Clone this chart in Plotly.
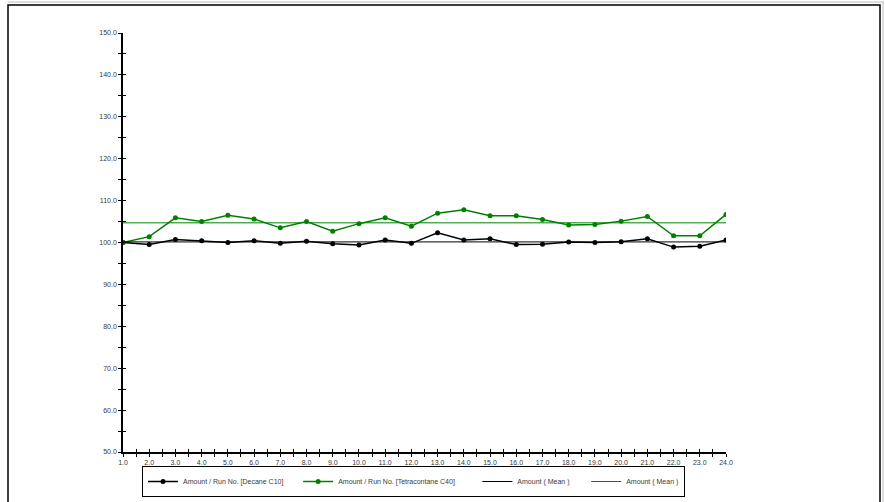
import plotly.graph_objects as go

# Run numbers and measured amounts
run_no = [1.0, 2.0, 3.0, 4.0, 5.0, 6.0, 7.0, 8.0, 9.0, 10.0, 11.0, 12.0,
          13.0, 14.0, 15.0, 16.0, 17.0, 18.0, 19.0, 20.0, 21.0, 22.0, 23.0, 24.0]

decane_c10 = [100.0, 99.5, 100.7, 100.4, 100.0, 100.4, 99.8, 100.3, 99.7, 99.4, 100.6, 99.8,
              102.3, 100.6, 100.9, 99.5, 99.6, 100.1, 100.0, 100.2, 100.9, 98.9, 99.1, 100.6]

tetracontane_c40 = [100.0, 101.4, 105.9, 105.0, 106.5, 105.6, 103.5, 105.0, 102.7, 104.5, 105.9, 103.9,
                    107.0, 107.8, 106.4, 106.4, 105.5, 104.2, 104.3, 105.1, 106.2, 101.6, 101.6, 106.7]

series_names = ["Amount / Run No. [Decane C10]",
                "Amount / Run No. [Tetracontane C40]",
                "Amount ( Mean )",
                "Amount ( Mean )"]

mean_c10 = sum(decane_c10) / len(decane_c10)
mean_c40 = sum(tetracontane_c40) / len(tetracontane_c40)

BLACK = "#000000"
GREEN = "#008000"
TEXT = "#3a3a3a"
FONT = "Liberation Sans, Arial, sans-serif"


def pad(n):
    # non-breaking spaces widen the gap between legend entries
    return "\u00a0" * n


fig = go.Figure()

fig.add_trace(go.Scatter(
    x=run_no, y=decane_c10, mode="lines+markers", name=series_names[0] + pad(5),
    line=dict(color=BLACK, width=1.5), marker=dict(color=BLACK, size=5),
))
fig.add_trace(go.Scatter(
    x=run_no, y=tetracontane_c40, mode="lines+markers", name=series_names[1] + pad(9),
    line=dict(color=GREEN, width=1.5), marker=dict(color=GREEN, size=5),
))
# Mean lines live on the overlay axes that carry the inward tick marks
fig.add_trace(go.Scatter(
    x=[run_no[0], run_no[-1]], y=[mean_c10, mean_c10], mode="lines",
    name=series_names[2] + pad(6), line=dict(color=BLACK, width=1),
    xaxis="x2", yaxis="y2",
))
fig.add_trace(go.Scatter(
    x=[run_no[0], run_no[-1]], y=[mean_c40, mean_c40], mode="lines",
    name=series_names[3], line=dict(color=GREEN, width=1),
    xaxis="x2", yaxis="y2",
))

x_range = [1.0, 24.0]
y_range = [50.0, 150.0]

common_x = dict(range=x_range, showgrid=False, zeroline=False, showline=True,
                linecolor=BLACK, linewidth=1.5, dtick=1, tick0=1,
                tickcolor=BLACK, ticklen=3, tickwidth=1)
common_y = dict(range=y_range, showgrid=False, zeroline=False, showline=True,
                linecolor=BLACK, linewidth=1.5, dtick=10, tick0=50,
                tickcolor=BLACK, ticklen=3, tickwidth=1)

fig.update_layout(
    width=885, height=502, autosize=False,
    margin=dict(l=123, r=159, t=33, b=50, autoexpand=False),
    paper_bgcolor="white", plot_bgcolor="white",
    font=dict(family=FONT, size=7, color=TEXT),
    showlegend=True,
    xaxis=dict(**common_x, ticks="outside", tickformat=".1f",
               tickfont=dict(family=FONT, size=7, color=TEXT),
               minor=dict(dtick=0.5, ticks="outside", ticklen=3, tickcolor=BLACK)),
    yaxis=dict(**common_y, ticks="outside", tickformat=".1f",
               tickfont=dict(family=FONT, size=7, color=TEXT),
               minor=dict(dtick=5, ticks="outside", ticklen=3, tickcolor=BLACK)),
    xaxis2=dict(**common_x, overlaying="x", anchor="y2", ticks="inside",
                showticklabels=False,
                minor=dict(dtick=0.5, ticks="inside", ticklen=3, tickcolor=BLACK)),
    yaxis2=dict(**common_y, overlaying="y", anchor="x2", ticks="inside",
                showticklabels=False,
                minor=dict(dtick=5, ticks="inside", ticklen=3, tickcolor=BLACK)),
    legend=dict(
        orientation="h", xref="container", yref="container",
        x=142 / 885, y=1 - 466 / 502, xanchor="left", yanchor="top",
        bgcolor="white", bordercolor=BLACK, borderwidth=1,
        font=dict(family=FONT, size=7, color=TEXT),
        itemclick=False, itemdoubleclick=False,
    ),
    shapes=[
        # outer frame around the whole chart
        dict(type="rect", xref="paper", yref="paper",
             x0=(8 - 123) / 603, x1=(880 - 123) / 603,
             y0=(452 - 520) / 419, y1=(452 - 5) / 419,
             line=dict(color=BLACK, width=1.5), fillcolor="rgba(0,0,0,0)", layer="below"),
        dict(type="line", xref="paper", yref="paper",
             x0=(8 - 123) / 603, x1=(884 - 123) / 603,
             y0=(452 - 2) / 419, y1=(452 - 2) / 419,
             line=dict(color="#bbbbbb", width=1)),
        dict(type="line", xref="paper", yref="paper",
             x0=(883 - 123) / 603, x1=(883 - 123) / 603,
             y0=(452 - 520) / 419, y1=(452 - 2) / 419,
             line=dict(color="#bbbbbb", width=1)),
    ],
)

fig.write_html("out.html")
